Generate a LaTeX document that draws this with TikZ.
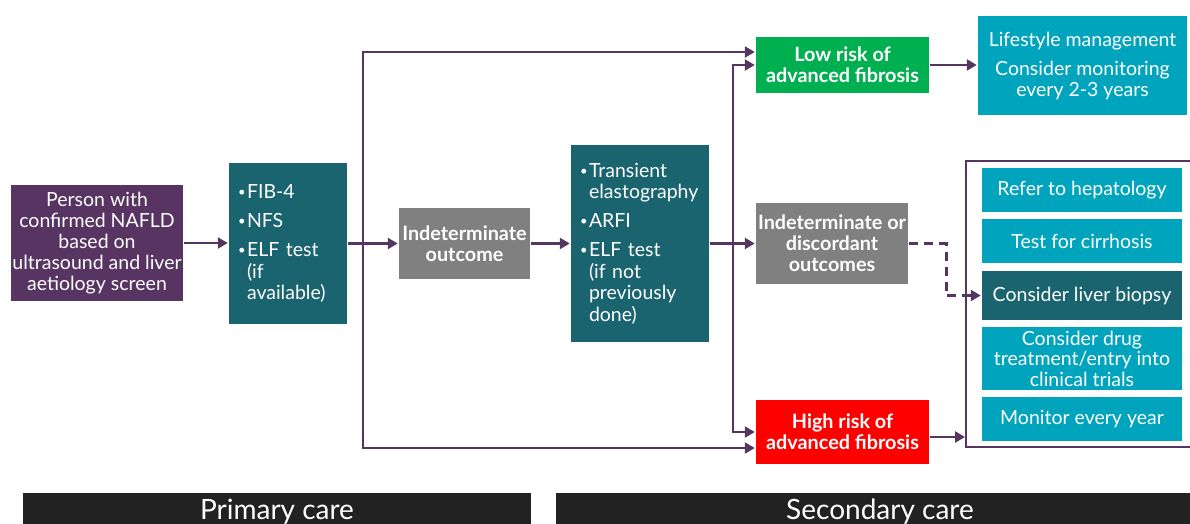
\documentclass[tikz,border=0pt]{standalone}
\usepackage{fontspec}
\setmainfont{Lato}
\usetikzlibrary{arrows.meta}
\definecolor{purp}{HTML}{583462}
\definecolor{lnc}{HTML}{553661}
\definecolor{teal1}{HTML}{1A6470}
\definecolor{grey1}{HTML}{808080}
\definecolor{green1}{HTML}{00B050}
\definecolor{red1}{HTML}{FF0000}
\definecolor{cyan1}{HTML}{00A5BD}
\definecolor{bar}{HTML}{222222}
\newcommand{\bul}[1]{\hangindent=9pt\hangafter=1\makebox[9pt][l]{\raisebox{1.8pt}{\fontsize{13}{13}\selectfont\textbullet}}#1\par}
\begin{document}
\begin{tikzpicture}[x=1pt,y=-1pt,
  box/.style={inner sep=0pt,text=white,align=center,font=\fontsize{19.5}{21}\selectfont},
  bold/.style={box,font=\fontsize{19.8}{21}\selectfont\bfseries},
  list/.style={box,align=left,font=\fontsize{19.5}{21.5}\selectfont},
  carebar/.style={fill=bar,text=white,inner sep=0pt,anchor=north,minimum height=37pt,font=\fontsize{28}{30}\selectfont},
  >={Triangle[length=10pt,width=11pt]},line width=2.5pt,lnc]
\useasboundingbox (0,0) rectangle (1190,524);

\node[box,fill=purp,minimum width=172pt,minimum height=116pt] (p0) at (97,243) {Person with\\confirmed NAFLD\\based on\\ultrasound and liver\\aetiology screen};

\node[list,fill=teal1,minimum width=118pt,minimum height=161pt,text width=100pt] (t1) at (288,243.5) {\setlength{\parskip}{7.5pt}\bul{FIB-4}\bul{NFS}\bul{ELF test\newline(if\newline available)}};

\node[bold,fill=grey1,minimum width=131pt,minimum height=71pt] (o1) at (464.5,243.5) {Indeterminate\\outcome};

\node[list,fill=teal1,minimum width=138pt,minimum height=197pt,text width=120pt] (t2) at (640,243.5) {\setlength{\parskip}{7.5pt}\bul{Transient\newline elastography}\bul{ARFI}\bul{ELF test\newline(if not\newline previously\newline done)}};

\node[bold,fill=grey1,minimum width=152pt,minimum height=81pt] (o2) at (832,243.5) {Indeterminate or\\discordant\\outcomes};

\node[bold,fill=green1,minimum width=173pt,minimum height=56pt] (lo) at (842.5,65) {Low risk of\\advanced fibrosis};
\node[bold,fill=red1,minimum width=173pt,minimum height=64pt] (hi) at (842.5,432) {High risk of\\advanced fibrosis};

\node[box,fill=cyan1,minimum width=209pt,minimum height=99pt] (ls) at (1082.5,65.5) {Lifestyle management\\[8pt]Consider monitoring\\every 2-3 years};

% secondary care actions
\node[draw=lnc,line width=2pt,minimum width=232pt,minimum height=286pt,inner sep=0pt] (f) at (1082,304) {};
\node[box,fill=cyan1,minimum width=200pt,minimum height=44pt] (s1) at (1082,190) {Refer to hepatology};
\node[box,fill=cyan1,minimum width=200pt,minimum height=44pt] (s2) at (1082,241) {Test for cirrhosis};
\node[box,fill=teal1,minimum width=200pt,minimum height=49pt] (s3) at (1082,295.5) {Consider liver biopsy};
\node[box,fill=cyan1,minimum width=200pt,minimum height=63pt,font=\fontsize{19.5}{20.5}\selectfont] (s4) at (1082,358.5) {Consider drug\\treatment/entry into\\clinical trials};
\node[box,fill=cyan1,minimum width=200pt,minimum height=44pt] (s5) at (1082,419) {Monitor every year};

\node[carebar,minimum width=508pt] (b1) at (277,492) {Primary care};
\node[carebar,minimum width=648pt] (b2) at (880,492) {Secondary care};

\coordinate (j1) at (363,243.5);
\coordinate (j2) at (733,243.5);

\draw[->] (p0.east) -- (p0.east -| t1.west);
\draw[->] (t1.east) -- (t1.east -| o1.west);
\draw[->] (j1) |- ([yshift=13pt]lo.west);
\draw[->] (j1) |- ([yshift=-16pt]hi.west);
\draw[->] (o1.east) -- (o1.east -| t2.west);
\draw[->] (t2.east) -- (t2.east -| o2.west);
\draw[->] (j2) |- (lo.west);
\draw[->] (j2) |- (hi.west);
\draw[->] (lo.east) -- (lo.east -| ls.west);
\draw[->,dash pattern=on 9pt off 6pt] (o2.east) -- ++(37,0) |- (s3.west);
\draw[->] ([yshift=-5pt]hi.east) -- ([yshift=-5pt]hi.east -| f.west);

\end{tikzpicture}
\end{document}
